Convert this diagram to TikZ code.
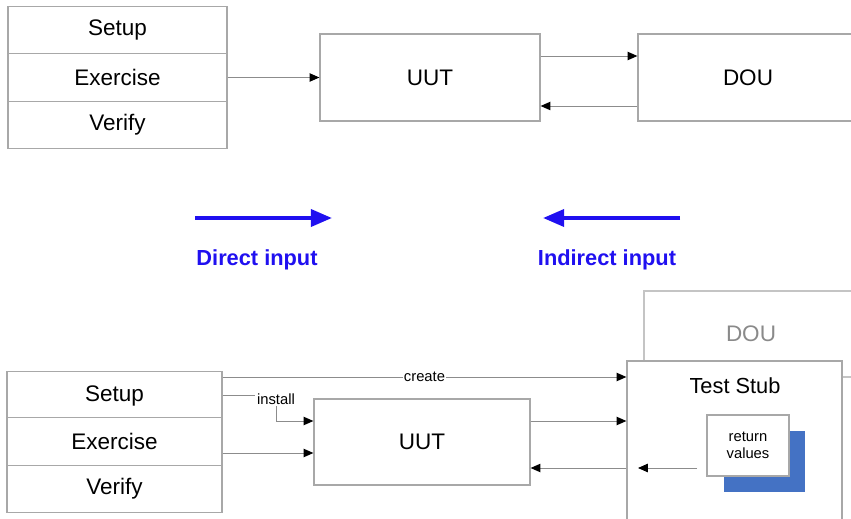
\documentclass[tikz,border=0pt]{standalone}
\usepackage{fontspec}
\setmainfont{Liberation Sans}
\usetikzlibrary{arrows.meta}

\newdimen\unitpx \unitpx=0.025cm
\definecolor{boxgray}{HTML}{A8A8A8}
\definecolor{lightgray2}{HTML}{C4C4C4}
\definecolor{linegray}{HTML}{8C8C8C}
\definecolor{dougray}{HTML}{8A8A8A}
\definecolor{inputblue}{HTML}{2010F0}
\definecolor{shadowblue}{HTML}{4472C4}

\begin{document}
\begin{tikzpicture}[x=0.025cm, y=-0.025cm,
    box/.style={draw=boxgray, line width=0.9pt, fill=white, inner sep=0pt},
    row/.style={box, minimum width=#1\unitpx, minimum height=47.5\unitpx, font=\fontsize{16}{19}\selectfont},
    row/.default=219,
    unit/.style={box, minimum width=#1\unitpx, minimum height=87\unitpx, font=\fontsize{16}{19}\selectfont},
    unit/.default=220,
    small/.style={font=\fontsize{10.5}{12.5}\selectfont, inner sep=1pt},
    conn/.style={draw=linegray, line width=0.7pt, -{Triangle[length=7pt, width=6pt, color=black]}},
    plain/.style={draw=linegray, line width=0.7pt},
    bigarrow/.style={draw=inputblue, line width=2.8pt, -{Triangle[length=15pt, width=12pt]}},
    inlabel/.style={text=inputblue, font=\fontsize{15.5}{18}\selectfont\bfseries}]
    \useasboundingbox (0, 0) rectangle (851, 519);
    \clip (0, 0) rectangle (851, 519);
    % top: test with a real DOU
    \node[row] (setA) at (117.5, 30) {Setup};
    \node[row] (exA) at (117.5, 77.5) {Exercise};
    \node[row] (verA) at (117.5, 125) {Verify};
    \node[unit] (uutA) at (430, 77.5) {UUT};
    \node[unit] (douA) at (748, 77.5) {DOU};
    \draw[conn] (exA.east) -- (uutA.west);
    \draw[conn] ([yshift=21.5\unitpx]uutA.east) -- ([yshift=21.5\unitpx]douA.west);
    \draw[conn] ([yshift=-28.5\unitpx]douA.west) -- ([yshift=-28.5\unitpx]uutA.east);
    % direct / indirect input
    \coordinate (dirS) at (195, 218);
    \coordinate (dirE) at (332, 218);
    \coordinate (indS) at (680, 218);
    \coordinate (indE) at (543, 218);
    \draw[bigarrow] (dirS) -- (dirE);
    \draw[bigarrow] (indS) -- (indE);
    \node[inlabel] (dirL) at (257, 260) {Direct input};
    \node[inlabel] (indL) at (607, 260) {Indirect input};
    % bottom: DOU replaced by a test stub
    \node[row=215] (setB) at (114.5, 395.5) {Setup};
    \node[row=215] (exB) at (114.5, 441.5) {Exercise};
    \node[row=215] (verB) at (114.5, 489) {Verify};
    \node[unit=216, minimum height=86\unitpx] (uutB) at (422, 442) {UUT};
    \node[unit=214, minimum height=86\unitpx, draw=lightgray2, text=dougray] (douB) at (751, 334) {DOU};
    \node[box, minimum width=215\unitpx, minimum height=180\unitpx] (stub) at (734.5, 451) {};
    \node[font=\fontsize{15.5}{18}\selectfont] (stubL) at (735, 386) {Test Stub};
    \node[fill=shadowblue, inner sep=0pt, minimum width=81\unitpx, minimum height=61\unitpx] (shadow) at (764.5, 461.5) {};
    \node[box, minimum width=82\unitpx, minimum height=61\unitpx, align=center, font=\fontsize{10.5}{12.5}\selectfont] (retv) at (748, 445.5) {return\\values};
    \draw[conn] ([yshift=18.5\unitpx]setB.east) coordinate (crS) -- (crS -| stub.west)
        node[midway, small, fill=white] (crL) {create};
    \node[small] (inst) at (276, 399) {install};
    \draw[plain] (setB.east) -- (setB.east -| inst.west);
    \draw[conn] (inst.south) |- ([yshift=21\unitpx]uutB.west);
    \coordinate (exIn) at ([yshift=-11\unitpx]uutB.west);
    \draw[conn] (exIn -| exB.east) -- (exIn);
    \coordinate (uOut) at ([yshift=21\unitpx]uutB.east);
    \draw[conn] (uOut) -- (uOut -| stub.west);
    \coordinate (uIn) at ([yshift=-26\unitpx]uutB.east);
    \draw[conn] (uIn -| stub.west) -- (uIn);
    \coordinate (rvS) at (697, 468);
    \coordinate (rvE) at (638, 468);
    \draw[conn] (rvS) -- (rvE);
\end{tikzpicture}
\end{document}
